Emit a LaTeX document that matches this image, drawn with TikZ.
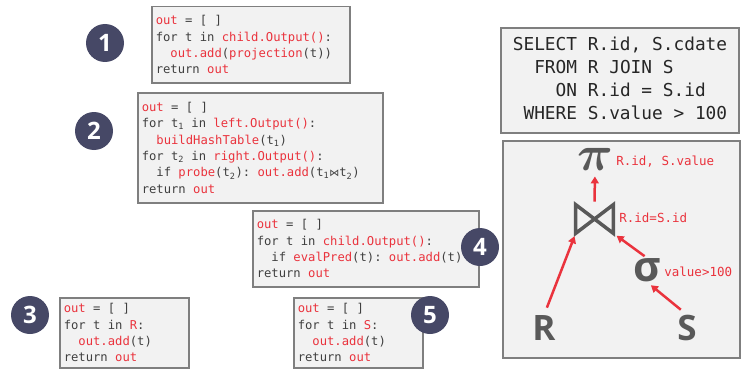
\documentclass[tikz,border=0pt]{standalone}
\usepackage{fontspec}
\setmonofont{DejaVu Sans Mono}
\newfontfamily\opensans{Open Sans}
\newfontfamily\symfont{DejaVu Sans}
\usetikzlibrary{arrows.meta}

\definecolor{boxfill}{RGB}{242,242,242}
\definecolor{boxline}{RGB}{127,127,127}
\definecolor{codegray}{RGB}{64,64,64}
\definecolor{codered}{RGB}{234,51,61}
\definecolor{badgeblue}{RGB}{70,72,102}
\definecolor{opgray}{RGB}{89,89,89}

\newcommand\hl[1]{\textcolor{codered}{#1}}
\newcommand\ind{\hphantom{xx}}
\newcommand\tsub[1]{\textsubscript{#1}}
\newcommand\joinsym{{\symfont\fontsize{10}{10}\selectfont ⋈}}
\newcommand\bigpi{\scalebox{2}{\fontsize{24}{24}\selectfont\boldmath$\pi$}}
\newcommand\monospace{\spaceskip=\fontcharwd\font`x\relax\xspaceskip=\spaceskip}

\tikzset{every picture/.style={line width=0.75pt}}
\tikzset{
  codebox/.style={draw=boxline, fill=boxfill, line width=1.5pt, anchor=north west, inner xsep=4pt, inner ysep=0pt, align=left, text=codegray, font=\ttfamily\fontsize{12.2}{16.4}\selectfont, execute at begin node=\monospace},
  badge/.style={circle, fill=badgeblue, minimum size=38pt, inner sep=0pt, text=white, font=\opensans\bfseries\fontsize{24}{24}\selectfont},
  panel/.style={draw=boxline, fill=boxfill, line width=2pt, anchor=north west, inner sep=0pt},
  op/.style={text=opgray, inner sep=0pt},
  oplabel/.style={text=codered, anchor=west, inner sep=0pt, font=\ttfamily\fontsize{12.5}{14}\selectfont},
  flow/.style={draw=codered, line width=2.5pt, -{Triangle[length=7pt,width=8pt]}}
}

\begin{document}
\begin{tikzpicture}[x=1pt,y=1pt,yscale=-1,xscale=1]
	\useasboundingbox (0,0) rectangle (741,369);

	% Code boxes
	\node[codebox, text width=190pt, minimum height=76pt] (proj) at (151,6) {\hl{out} = [ ]\\for t in \hl{child.Output()}:\\\ind\hl{out.add}(\hl{projection}(t))\\return \hl{out}};
	\node[codebox, text width=237pt, minimum height=110pt] (hashjoin) at (137,92) {\hl{out} = [ ]\\for t\tsub{1} in \hl{left.Output()}:\\\ind\hl{buildHashTable}(t\tsub{1})\\for t\tsub{2} in \hl{right.Output()}:\\\ind if \hl{probe}(t\tsub{2}): \hl{out.add}(t\tsub{1}\joinsym t\tsub{2})\\return \hl{out}};
	\node[codebox, text width=218pt, minimum height=76pt] (filter) at (252,210) {\hl{out} = [ ]\\for t in \hl{child.Output()}:\\\ind if \hl{evalPred}(t): \hl{out.add}(t)\\return \hl{out}};
	\node[codebox, text width=121pt, minimum height=70pt] (scanR) at (59,297) {\hl{out} = [ ]\\for t in \hl{R}:\\\ind\hl{out.add}(t)\\return \hl{out}};
	\node[codebox, text width=121pt, minimum height=70pt] (scanS) at (293,297) {\hl{out} = [ ]\\for t in \hl{S}:\\\ind\hl{out.add}(t)\\return \hl{out}};

	% SQL query
	\node[panel, minimum width=238pt, minimum height=105pt, font=\ttfamily\fontsize{17.8}{22.7}\selectfont, text=black!85] (query) at (500,27) {%
		\begin{tabular}{@{}r@{ }l@{}}
		SELECT & R.id, S.cdate\\
		FROM & R JOIN S\\
		ON & R.id = S.id\\
		WHERE & S.value > 100
		\end{tabular}};

	% Query plan
	\node[panel, minimum width=237pt, minimum height=217pt] (plan) at (502,140) {};
	\node[op] (proj op) at (595,159) {\bigpi};
	\node[op, minimum width=37pt, minimum height=28pt] (join) at (594.5,219) {};
	\draw[opgray, line width=3.5pt, line join=miter] (join.north west) -- (join.south east) -- (join.north east) -- (join.south west) -- cycle;
	\node[op, font=\opensans\bfseries\fontsize{42}{42}\selectfont] (sigma) at (647,270) {σ};
	\node[op, font=\opensans\bfseries\fontsize{35}{35}\selectfont] (relR) at (544,328) {R};
	\node[op, font=\opensans\bfseries\fontsize{35}{35}\selectfont] (relS) at (687,328) {S};
	\node[oplabel] (pilabel) at (616,162) {R.id, S.value};
	\node[oplabel] (joinlabel) at (619,218) {R.id=S.id};
	\node[oplabel] (sigmalabel) at (664,272) {value>100};

	% Arrows
	\draw[flow, shorten <=3pt, shorten >=6pt] (join.north) -- (proj op.south);
	\draw[flow, shorten <=8pt, shorten >=3pt] (relR.north) -- (join.south west);
	\draw[flow, shorten <=3pt, shorten >=4pt] (sigma.north) -- (join.south east);
	\draw[flow, shorten <=8pt, shorten >=5pt] (relS.north) -- (sigma.south);

	% Badges
	\node[badge] (b1) at (105,43) {1};
	\node[badge] (b2) at (94,131) {2};
	\node[badge] (b3) at (30,315) {3};
	\node[badge] (b4) at (480,247) {4};
	\node[badge] (b5) at (430,315) {5};
\end{tikzpicture}
\end{document}
